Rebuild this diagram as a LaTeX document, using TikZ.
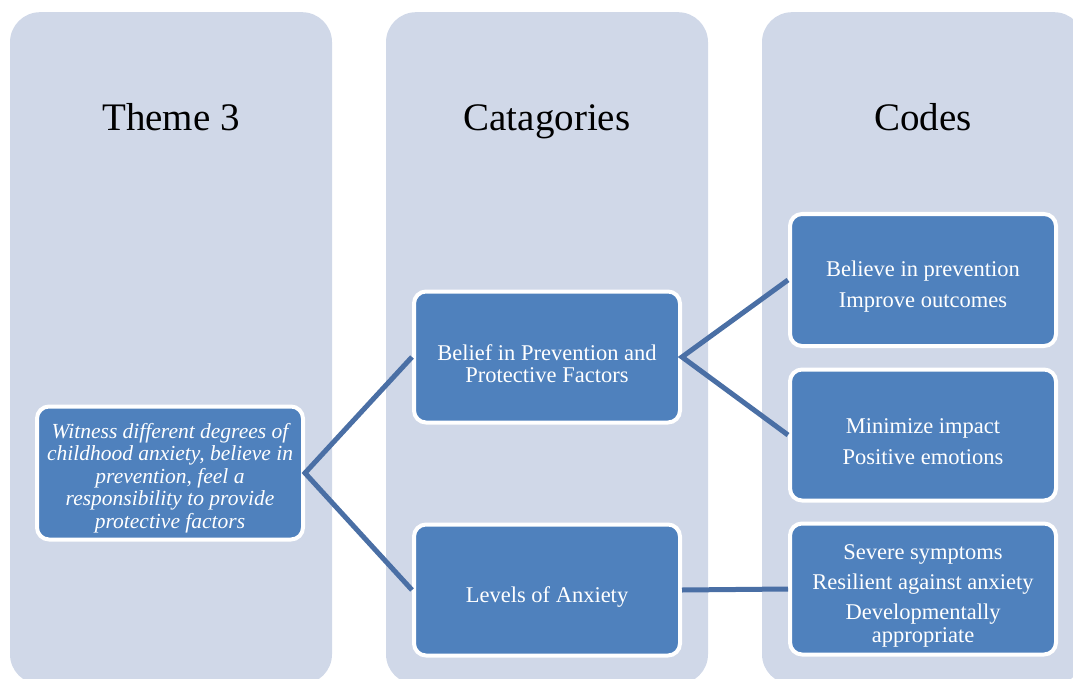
\documentclass[tikz,border=0pt]{standalone}
\usepackage{fontspec}
\setmainfont{Liberation Serif}
\definecolor{colfill}{HTML}{D0D8E8}
\definecolor{boxfill}{HTML}{4F81BD}
\definecolor{linkcol}{HTML}{4A6FA5}
\newcommand{\lift}{\rule{0pt}{29pt}}

\begin{document}
\begin{tikzpicture}[x=1pt,y=-1pt,
   column/.style={fill=colfill,rounded corners=30pt,minimum width=322pt,minimum height=672pt,inner sep=0pt,anchor=north},
   header/.style={font=\fontsize{39}{46}\selectfont,anchor=base},
   item/.style={fill=boxfill,draw=white,line width=4pt,rounded corners=12pt,minimum width=266pt,minimum height=131pt,text=white,align=center,font=\fontsize{22.5}{23}\selectfont,inner sep=2pt},
   itemtext/.style={text=white,align=center,font=\fontsize{21.5}{22.5}\selectfont\itshape,inner sep=0pt},
   link/.style={draw=linkcol,line width=5pt}]
   \useasboundingbox (0,0) rectangle (1073,679);
   \clip (0,0) rectangle (1073,679);
   % columns
   \node[column] (thmcol) at (171,12) {};
   \node[column] (catcol) at (547,12) {};
   \node[column] (codcol) at (923,12) {};
   \node[header] (thmhead) at (171,131) {Theme 3};
   \node[header] (cathead) at (547,131) {Catagories};
   \node[header] (codhead) at (923,131) {Codes};
   % boxes
   \node[item,minimum height=133pt] (theme) at (170,473) {};
   \node[itemtext] (themetxt) at ([yshift=-5pt]theme.center) {Witness different degrees of\\ childhood anxiety, believe in\\ prevention, feel a\\ responsibility to provide\\ protective factors};
   \node[item] (belief) at (547,357) {\lift Belief in Prevention and\\[-1pt] Protective Factors};
   \node[item] (levels) at (547,590) {\lift Levels of Anxiety};
   \node[item,minimum height=132pt] (code1) at (923,280) {\lift Believe in prevention\\[8pt] Improve outcomes};
   \node[item] (code2) at (923,435) {\lift Minimize impact\\[8pt] Positive emotions};
   \node[item] (code3) at (923,589) {\lift Severe symptoms\\[7pt] Resilient against anxiety\\[7pt] Developmentally\\ appropriate};
   % connectors
   \draw[link] (belief.west) -- (theme.east) -- (levels.west);
   \draw[link] (code1.west) -- (belief.east) -- (code2.west);
   \draw[link] (levels.east) -- (code3.west);
\end{tikzpicture}
\end{document}
